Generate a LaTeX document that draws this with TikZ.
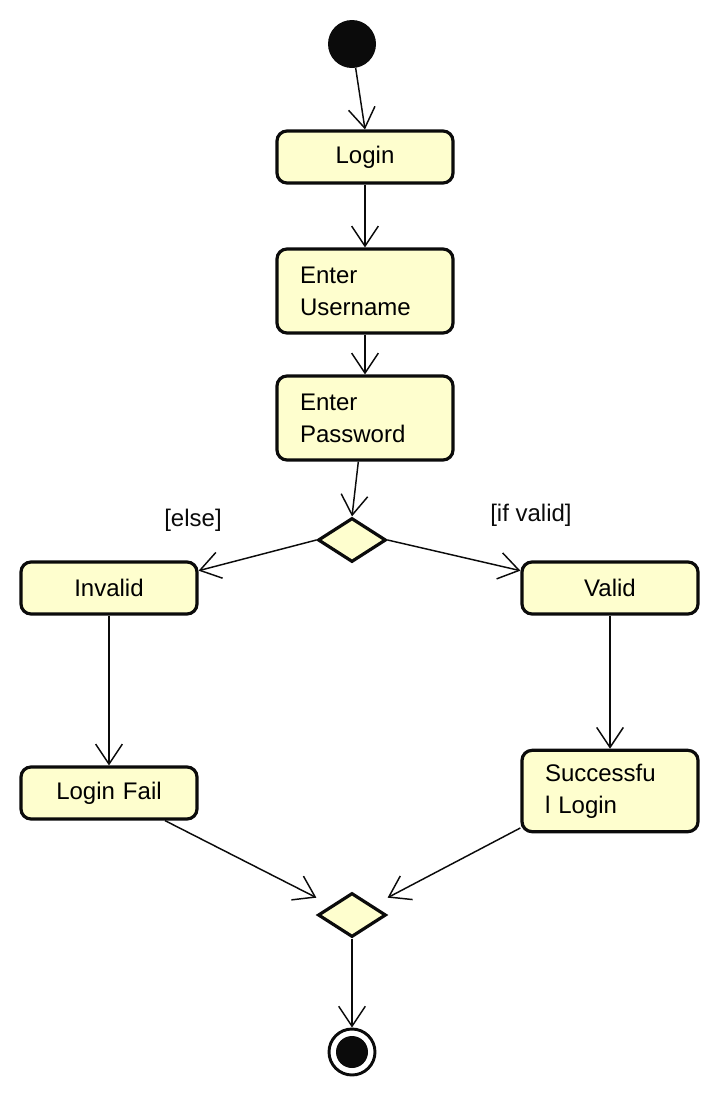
\documentclass[tikz,border=0pt]{standalone}
\usepackage{fontspec}
\setmainfont{Liberation Sans}
\usetikzlibrary{arrows.meta,shapes.geometric}
\definecolor{cfill}{HTML}{FEFECE}
\definecolor{ink}{HTML}{0B0B0B}

\begin{document}
\begin{tikzpicture}[x=0.75pt,y=-0.75pt,
  act/.style={draw=ink,fill=cfill,line width=2.4pt,rounded corners=7.5pt,minimum width=132pt,minimum height=39pt,
    inner xsep=17.25pt,text width=97.5pt,font=\fontsize{18}{24}\selectfont},
  dec/.style={diamond,draw=ink,fill=cfill,line width=2.4pt,minimum width=51pt,minimum height=33pt,inner sep=0pt},
  flow/.style={draw=ink,line width=1.1pt,-{Straight Barb[length=15pt,width=20pt]}},
  guard/.style={font=\fontsize{18}{24}\selectfont,color=ink}]
  \useasboundingbox (0,0) rectangle (719,1097);
  % start and actions
  \node[circle,fill=ink,minimum size=36pt,inner sep=0pt] (start) at (352,44) {};
  \node[act,align=center] (login) at (365,157) {Login};
  \node[act,align=left,minimum height=63pt] (user) at (365,291) {Enter\\Username};
  \node[act,align=left,minimum height=63pt] (pass) at (365,418) {Enter\\Password};
  \node[dec] (dec1) at (352,540) {};
  \node[guard] (lelse) at (193,520) {[else]};
  \node[guard] (lvalid) at (531,515) {[if valid]};
  \node[act,align=center] (invalid) at (109,588) {Invalid};
  \node[act,align=center] (valid) at (610,588) {Valid};
  \node[act,align=center] (fail) at (109,793) {Login Fail};
  \node[act,align=left,minimum height=61pt] (success) at (610,791) {Successfu\\l Login};
  \node[dec] (dec2) at (352,915) {};
  \node[circle,draw=ink,fill=white,line width=2.2pt,minimum size=34.5pt,inner sep=0pt] (stop) at (352,1052) {};
  \node[circle,fill=ink,minimum size=24pt,inner sep=0pt] (stopin) at (stop) {};
  % flows
  \draw[flow] (start) -- (login.north);
  \draw[flow] (login) -- (user);
  \draw[flow] (user) -- (pass);
  \draw[flow] ([xshift=-5pt]pass.south) -- (dec1.north);
  \draw[flow] (dec1.west) -- ([yshift=13pt]invalid.east);
  \draw[flow] (dec1.east) -- ([yshift=13pt]valid.west);
  \draw[flow] (invalid) -- (fail);
  \draw[flow] (valid) -- (success);
  \draw[flow] ([xshift=42pt]fail.south) -- ([yshift=13pt]dec2.west);
  \draw[flow] ([yshift=4pt]success.south west) -- ([yshift=13pt]dec2.east);
  \draw[flow] (dec2) -- (stop);
\end{tikzpicture}
\end{document}
